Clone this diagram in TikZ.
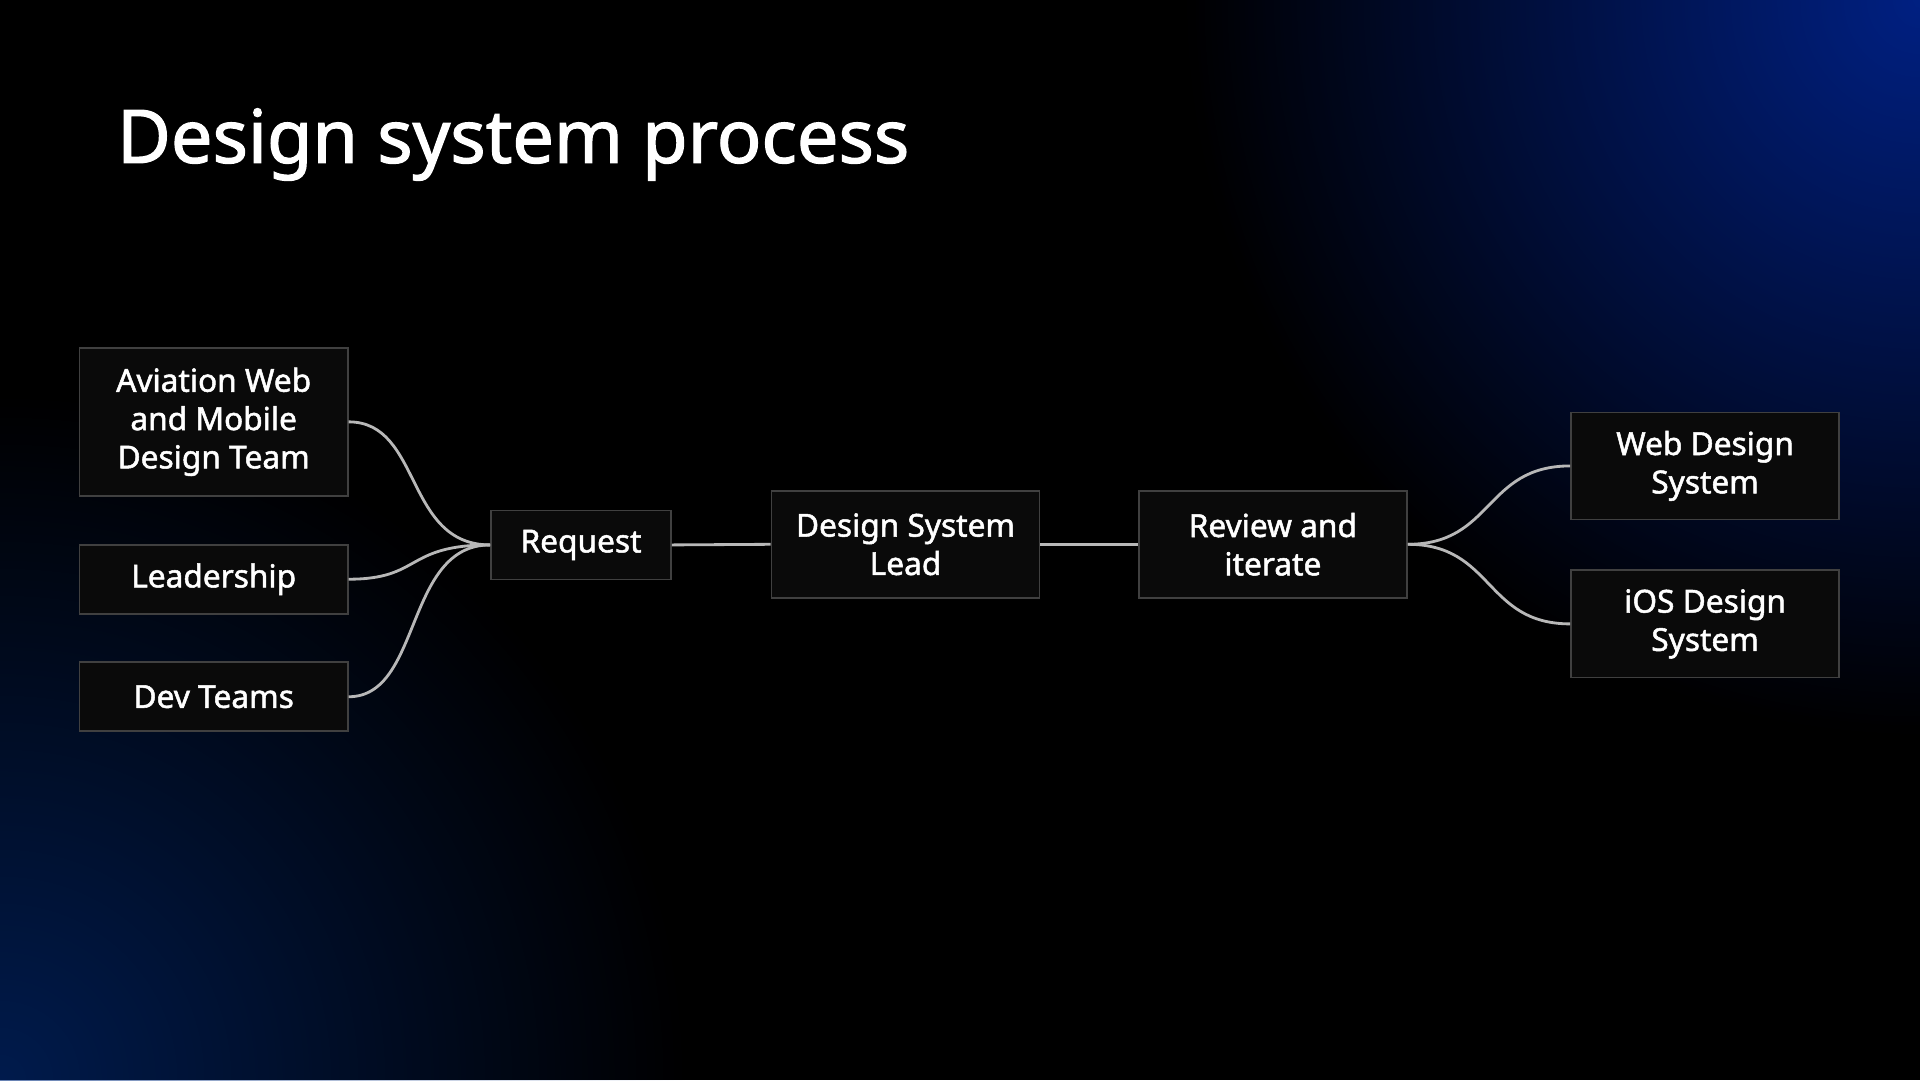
\documentclass[tikz,border=0pt]{standalone}
\usepackage{fontspec}
\setmainfont{Noto Sans}[BoldFont={Noto Sans},BoldFeatures={FakeBold=1.6}]
\usetikzlibrary{fadings}
\tikzfading[name=myfade, inner color=transparent!0, outer color=transparent!100]
\begin{document}
\begin{tikzpicture}[x=0.012245cm,y=-0.012245cm,
  box/.style={draw=white!25!black,line width=0.5pt,fill=black!96!white,minimum width=2.68cm,align=center,text=white,font=\fontsize{9}{10.9}\selectfont\bfseries,inner sep=0pt},
  conn/.style={draw=white!72!black,line width=0.8pt}]
\useasboundingbox (0,0) rectangle (1568,882);
\fill[black] (0,0) rectangle (1568,882);
\begin{scope}
\clip (0,0) rectangle (1568,882);
\fill[blue!75!cyan!60!black,path fading=myfade,opacity=0.85] (1568,0) circle (600);
\fill[blue!65!cyan!50!black,path fading=myfade,opacity=0.6] (0,882) circle (560);
\end{scope}
\node[anchor=base west,text=white,font=\fontsize{21}{25}\selectfont\bfseries,inner sep=0pt] (title) at (95,133) {Design system process};
\node[box,minimum height=1.48cm] (av) at (174.5,344.5) {Aviation Web\\and Mobile\\Design Team};
\node[box,minimum height=0.69cm] (le) at (174.5,473) {Leadership};
\node[box,minimum height=0.69cm] (dev) at (174.5,569) {Dev Teams};
\node[box,minimum height=0.69cm,minimum width=1.8cm] (req) at (474.5,445) {Request};
\node[box,minimum height=1.07cm] (dsl) at (739.5,444.5) {Design System\\Lead};
\node[box,minimum height=1.07cm] (rev) at (1039.5,444.5) {Review and\\iterate};
\node[box,minimum height=1.07cm] (web) at (1392.5,380.5) {Web Design\\System};
\node[box,minimum height=1.07cm] (ios) at (1392.5,509.5) {iOS Design\\System};
\draw[conn] (av.east) .. controls +(60,0) and +(-70,0) .. (req.west);
\draw[conn] (le.east) .. controls +(60,0) and +(-70,0) .. (req.west);
\draw[conn] (dev.east) .. controls +(60,0) and +(-70,0) .. (req.west);
\draw[conn] (req.east) -- (dsl.west);
\draw[conn] (dsl.east) -- (rev.west);
\draw[conn] (rev.east) .. controls +(70,0) and +(-70,0) .. (web.west);
\draw[conn] (rev.east) .. controls +(70,0) and +(-70,0) .. (ios.west);
\end{tikzpicture}
\end{document}
